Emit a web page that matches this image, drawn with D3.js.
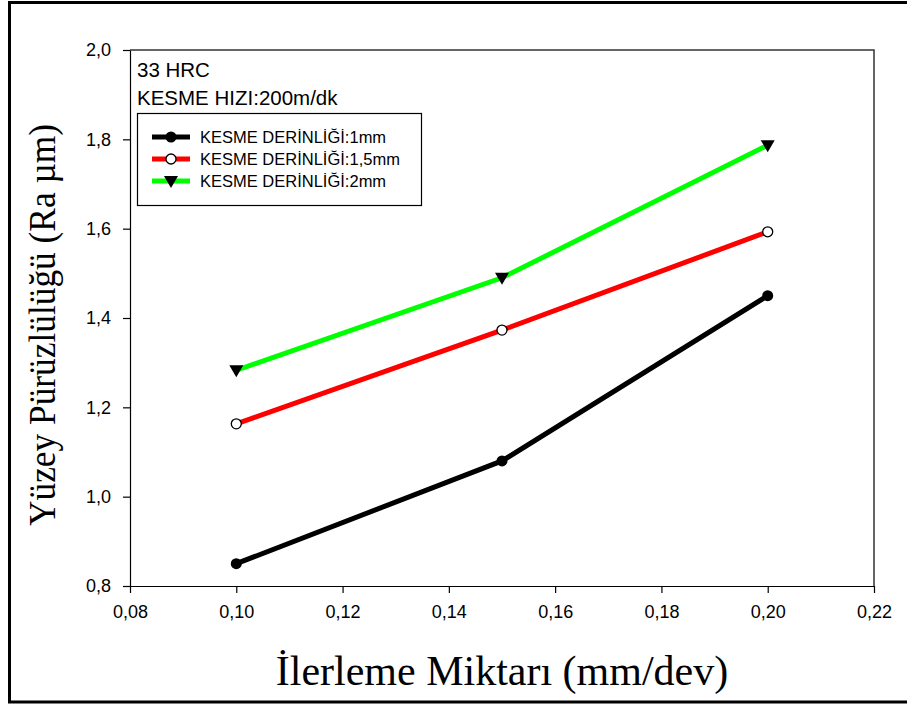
<!DOCTYPE html>
<html>
<head>
<meta charset="utf-8">
<script src="https://cdn.jsdelivr.net/npm/d3@7"></script>
<style>
  body { margin: 0; background: #fff; }
  svg { display: block; }
</style>
</head>
<body>
<div id="chart"></div>
<script>
// feed rate (mm/dev)
var feeds = [0.10, 0.15, 0.20];
// surface roughness Ra for each depth of cut
var depth1 = [0.85, 1.08, 1.45];
var depth15 = [1.163, 1.373, 1.593];
var depth2 = [1.283, 1.49, 1.787];
var seriesNames = ['KESME DERİNLİĞİ:1mm', 'KESME DERİNLİĞİ:1,5mm', 'KESME DERİNLİĞİ:2mm'];
var xTicks = [0.08, 0.10, 0.12, 0.14, 0.16, 0.18, 0.20, 0.22];
var yTicks = [0.8, 1.0, 1.2, 1.4, 1.6, 1.8, 2.0];

var width = 907, height = 704;
var margin = {left: 130, top: 50, right: 33, bottom: 118};
var sans = 'Arial, "Liberation Sans", sans-serif';
var serif = '"Times New Roman", "Liberation Serif", serif';

var svg = d3.select('#chart').append('svg')
    .attr('width', width)
    .attr('height', height);

// outer frame (right side is cut off in the original)
svg.append('path')
    .attr('d', 'M912,2.5 H9.5 V702 H912')
    .attr('fill', 'none')
    .attr('stroke', '#000')
    .attr('stroke-width', 3);

var x = d3.scaleLinear().domain([0.08, 0.22]).range([margin.left, width - margin.right]);
var y = d3.scaleLinear().domain([0.8, 2.0]).range([height - margin.bottom, margin.top]);

var fmt = function(d) { return d.toFixed(d >= 0.5 ? 1 : 2).replace('.', ','); };

// top + right border
svg.append('path')
    .attr('d', 'M' + x(0.08) + ',' + y(2.0) + ' H' + x(0.22) + ' V' + y(0.8))
    .attr('fill', 'none')
    .attr('stroke', '#333')
    .attr('stroke-width', 1.5);

var xAxis = svg.append('g')
    .attr('transform', 'translate(0,' + y(0.8) + ')')
    .call(d3.axisBottom(x).tickValues(xTicks).tickFormat(fmt).tickSize(7).tickSizeOuter(0));
var yAxis = svg.append('g')
    .attr('transform', 'translate(' + x(0.08) + ',0)')
    .call(d3.axisLeft(y).tickValues(yTicks).tickFormat(fmt).tickSize(7).tickSizeOuter(0));

[xAxis, yAxis].forEach(function(a) {
    a.attr('font-size', 18).attr('font-family', sans);
    a.selectAll('.domain').attr('stroke', '#000').attr('stroke-width', 1.2);
    a.selectAll('.tick line').attr('stroke', '#000').attr('stroke-width', 1.2);
    a.selectAll('.tick text').attr('fill', '#000');
});
xAxis.selectAll('.tick text').attr('y', 19);
yAxis.selectAll('.tick text').attr('x', -19);

// axis titles
svg.append('text')
    .attr('x', (x(0.08) + x(0.22)) / 2)
    .attr('y', 685)
    .attr('text-anchor', 'middle')
    .attr('font-family', serif)
    .attr('font-size', 42)
    .text('İlerleme Miktarı (mm/dev)');

svg.append('text')
    .attr('transform', 'translate(55,325) rotate(-90) scale(0.93,1)')
    .attr('text-anchor', 'middle')
    .attr('font-family', serif)
    .attr('font-size', 38)
    .text('Yüzey Pürüzlülüğü (Ra µm)');

// annotation
svg.append('text')
    .attr('x', 137).attr('y', 77)
    .attr('font-family', sans)
    .attr('font-size', 20.5)
    .text('33 HRC');
svg.append('text')
    .attr('x', 137).attr('y', 105)
    .attr('font-family', sans)
    .attr('font-size', 20.5)
    .text('KESME HIZI:200m/dk');

var series = [
    {name: seriesNames[0], values: depth1, color: '#000000', marker: 'dot'},
    {name: seriesNames[1], values: depth15, color: '#ff0000', marker: 'open'},
    {name: seriesNames[2], values: depth2, color: '#00ff00', marker: 'tri'}
];

var line = d3.line()
    .x(function(d, i) { return x(feeds[i]); })
    .y(function(d) { return y(d); });

function drawMarker(g, type, cx, cy) {
    if (type === 'dot') {
        g.append('circle').attr('cx', cx).attr('cy', cy).attr('r', 5.5).attr('fill', '#000');
    } else if (type === 'open') {
        g.append('circle').attr('cx', cx).attr('cy', cy).attr('r', 5)
            .attr('fill', '#fff').attr('stroke', '#000').attr('stroke-width', 1.3);
    } else {
        g.append('path')
            .attr('d', 'M' + (cx - 7) + ',' + (cy - 5) + ' L' + (cx + 7) + ',' + (cy - 5) + ' L' + cx + ',' + (cy + 7) + 'Z')
            .attr('fill', '#000');
    }
}

series.forEach(function(s) {
    var g = svg.append('g');
    g.append('path')
        .datum(s.values)
        .attr('d', line)
        .attr('fill', 'none')
        .attr('stroke', s.color)
        .attr('stroke-width', 5);
    s.values.forEach(function(v, i) {
        drawMarker(g, s.marker, x(feeds[i]), y(v));
    });
});

// legend
var legend = svg.append('g');
legend.append('rect')
    .attr('x', 137.5).attr('y', 113.5)
    .attr('width', 284).attr('height', 92)
    .attr('fill', '#fff')
    .attr('stroke', '#000')
    .attr('stroke-width', 1.2);
series.forEach(function(s, i) {
    var ly = 137 + i * 22;
    legend.append('line')
        .attr('x1', 152).attr('x2', 190)
        .attr('y1', ly).attr('y2', ly)
        .attr('stroke', s.color)
        .attr('stroke-width', 5);
    drawMarker(legend, s.marker, 171, ly);
    legend.append('text')
        .attr('x', 200).attr('y', ly + 6)
        .attr('font-family', sans)
        .attr('font-size', 16.5)
        .text(s.name);
});
</script>
</body>
</html>
